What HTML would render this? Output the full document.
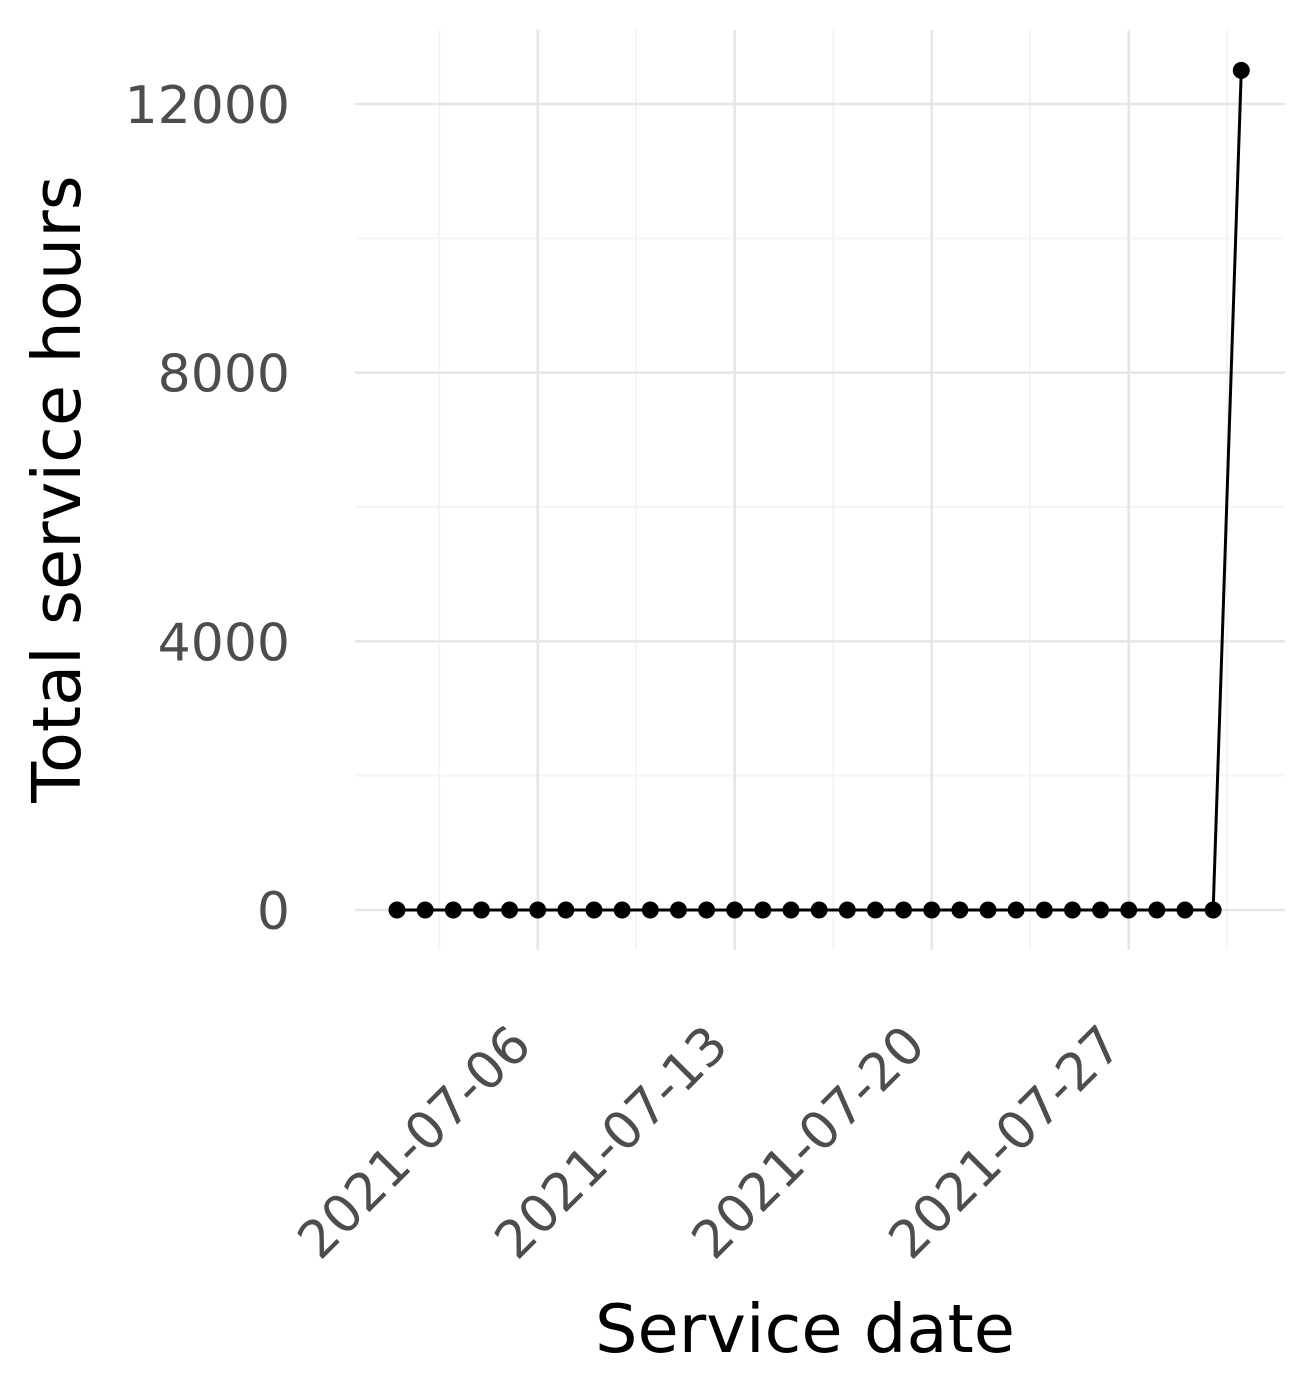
<!DOCTYPE html>
<html><head><meta charset="utf-8"><style>
html,body{margin:0;padding:0;background:#fff;}
svg{display:block;font-family:"DejaVu Sans","Liberation Sans",sans-serif;}
</style></head><body>
<svg id="chart" width="1315" height="1395"></svg>
<script>
const dates = [];
for (let d = 1; d <= 31; d++) dates.push('2021-07-' + String(d).padStart(2,'0'));
const hours = [0,0,0,0,0,0,0,0,0,0,0,0,0,0,0,0,0,0,0,0,0,0,0,0,0,0,0,0,0,0,12500];
const yTicks = [0,4000,8000,12000];
const yMinor = [2000,6000,10000];
const xTickLabels = ['2021-07-06','2021-07-13','2021-07-20','2021-07-27'];
const xMinorDays = [1.5,8.5,15.5,22.5,29.5];

const NS = 'http://www.w3.org/2000/svg';
const svg = document.getElementById('chart');
const L=355,R=1285,T=30,B=950;
const dayIdx = s => parseInt(s.slice(8)) - 1;
const x = i => 397 + i * (197/7);
const y = v => 910 - v * (806/12000);
function mk(tag, attrs, parent){const e=document.createElementNS(NS,tag);for(const k in attrs)e.setAttribute(k,attrs[k]);(parent||svg).appendChild(e);return e;}

const grid = mk('g',{});


yMinor.forEach(v=>mk('line',{x1:L,x2:R,y1:y(v),y2:y(v),stroke:'#f5f5f5','stroke-width':2},grid));
xMinorDays.forEach(d=>mk('line',{x1:x(d),x2:x(d),y1:T,y2:B,stroke:'#f5f5f5','stroke-width':2},grid));
yTicks.forEach(v=>mk('line',{x1:L,x2:R,y1:y(v),y2:y(v),stroke:'#e6e6e6','stroke-width':2.5},grid));
xTickLabels.forEach(s=>mk('line',{x1:x(dayIdx(s)),x2:x(dayIdx(s)),y1:T,y2:B,stroke:'#e6e6e6','stroke-width':2.5},grid));

yTicks.forEach(v=>{
  const t=mk('text',{x:290,y:y(v)+19,'text-anchor':'end','font-size':52,fill:'#4d4d4d'});
  t.textContent=v;
  
  
});
xTickLabels.forEach(s=>{
  const px=x(dayIdx(s))-4, py=1048;
  const t=mk('text',{x:px,y:py,'text-anchor':'end','font-size':52,fill:'#4d4d4d',transform:`rotate(-45 ${px} ${py})`});
  t.textContent=s;
  
  
});

const line = mk('polyline',{points:hours.map((v,i)=>x(dayIdx(dates[i]))+','+y(v)).join(' '),fill:'none',stroke:'#000','stroke-width':3});


hours.forEach((v,i)=>{
  const c=mk('circle',{cx:x(dayIdx(dates[i])),cy:y(v),r:8.5,fill:'#000'});
  
  
});

const xt=mk('text',{x:805,y:1352,'text-anchor':'middle','font-size':67,fill:'#000'});
xt.textContent='Service date';


const yt=mk('text',{x:80,y:489,'text-anchor':'middle','font-size':67,fill:'#000',transform:'rotate(-90 80 489)'});
yt.textContent='Total service hours';


</script>
</body></html>
